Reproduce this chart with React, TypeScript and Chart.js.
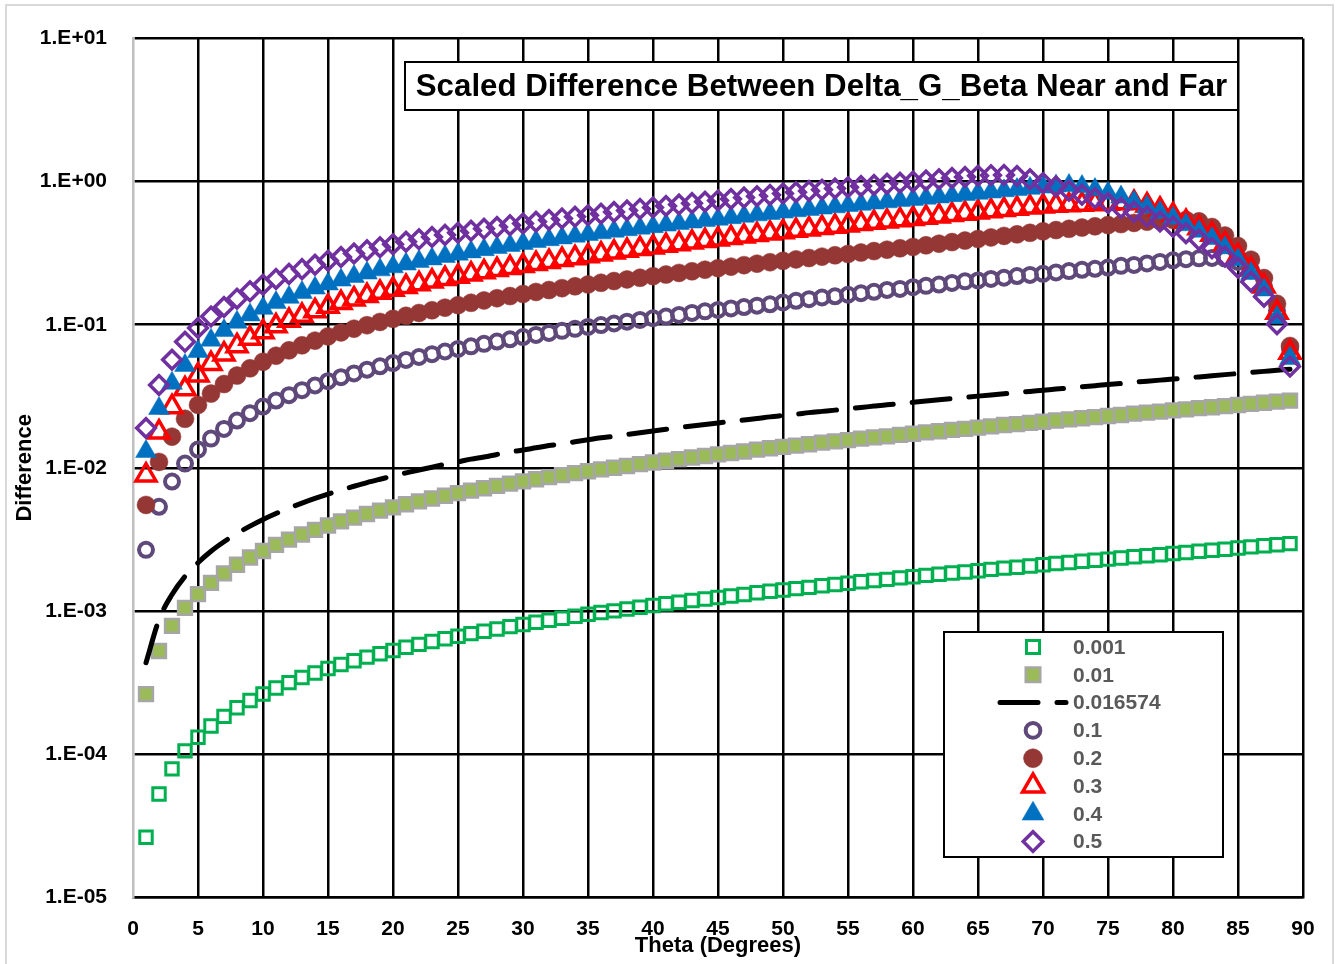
import { useEffect, useRef } from "react";
import { Chart, registerables } from "chart.js";

Chart.register(...registerables);

const FONT = "'Liberation Sans', Arial, sans-serif";

// ---------------- data ----------------
const thetaDeg = [
  1, 2, 3, 4, 5, 6, 7, 8, 9, 10, 11, 12, 13, 14, 15, 16, 17, 18, 19, 20,
  21, 22, 23, 24, 25, 26, 27, 28, 29, 30, 31, 32, 33, 34, 35, 36, 37, 38, 39, 40,
  41, 42, 43, 44, 45, 46, 47, 48, 49, 50, 51, 52, 53, 54, 55, 56, 57, 58, 59, 60,
  61, 62, 63, 64, 65, 66, 67, 68, 69, 70, 71, 72, 73, 74, 75, 76, 77, 78, 79, 80,
  81, 82, 83, 84, 85, 86, 87, 88, 89,
];

const xTickStep = 5;
const yTickValues = [1e-5, 1e-4, 1e-3, 1e-2, 1e-1, 1, 10];
const seriesLabels = ["0.001", "0.01", "0.016574", "0.1", "0.2", "0.3", "0.4", "0.5"];
const chartTitle = "Scaled Difference Between Delta_G_Beta Near and Far";
const xAxisTitle = "Theta (Degrees)";
const yAxisTitle = "Difference";

const s0001 = [
  2.62e-5, 5.24e-5, 7.86e-5, 1.05e-4, 1.31e-4, 1.57e-4, 1.83e-4, 2.10e-4, 2.36e-4, 2.62e-4,
  2.89e-4, 3.15e-4, 3.42e-4, 3.68e-4, 3.95e-4, 4.22e-4, 4.48e-4, 4.75e-4, 5.02e-4, 5.29e-4,
  5.56e-4, 5.83e-4, 6.10e-4, 6.38e-4, 6.65e-4, 6.93e-4, 7.20e-4, 7.48e-4, 7.76e-4, 8.04e-4,
  8.32e-4, 8.60e-4, 8.89e-4, 9.17e-4, 9.46e-4, 9.75e-4, 1.00e-3, 1.03e-3, 1.06e-3, 1.09e-3,
  1.12e-3, 1.15e-3, 1.18e-3, 1.21e-3, 1.24e-3, 1.27e-3, 1.30e-3, 1.34e-3, 1.37e-3, 1.40e-3,
  1.43e-3, 1.46e-3, 1.50e-3, 1.53e-3, 1.56e-3, 1.60e-3, 1.63e-3, 1.66e-3, 1.70e-3, 1.73e-3,
  1.77e-3, 1.80e-3, 1.84e-3, 1.87e-3, 1.91e-3, 1.95e-3, 1.99e-3, 2.02e-3, 2.06e-3, 2.10e-3,
  2.14e-3, 2.18e-3, 2.22e-3, 2.26e-3, 2.30e-3, 2.34e-3, 2.39e-3, 2.43e-3, 2.47e-3, 2.52e-3,
  2.56e-3, 2.61e-3, 2.65e-3, 2.70e-3, 2.75e-3, 2.80e-3, 2.85e-3, 2.90e-3, 2.95e-3,
];

const s001 = [
  2.62e-4, 5.24e-4, 7.86e-4, 1.05e-3, 1.31e-3, 1.57e-3, 1.83e-3, 2.10e-3, 2.36e-3, 2.62e-3,
  2.89e-3, 3.15e-3, 3.42e-3, 3.68e-3, 3.95e-3, 4.22e-3, 4.48e-3, 4.75e-3, 5.02e-3, 5.29e-3,
  5.56e-3, 5.83e-3, 6.10e-3, 6.38e-3, 6.65e-3, 6.93e-3, 7.20e-3, 7.48e-3, 7.76e-3, 8.04e-3,
  8.32e-3, 8.60e-3, 8.89e-3, 9.17e-3, 9.46e-3, 9.75e-3, 1.00e-2, 1.03e-2, 1.06e-2, 1.09e-2,
  1.12e-2, 1.15e-2, 1.18e-2, 1.21e-2, 1.24e-2, 1.27e-2, 1.30e-2, 1.34e-2, 1.37e-2, 1.40e-2,
  1.43e-2, 1.46e-2, 1.50e-2, 1.53e-2, 1.56e-2, 1.60e-2, 1.63e-2, 1.66e-2, 1.70e-2, 1.73e-2,
  1.77e-2, 1.80e-2, 1.84e-2, 1.87e-2, 1.91e-2, 1.95e-2, 1.99e-2, 2.02e-2, 2.06e-2, 2.10e-2,
  2.14e-2, 2.18e-2, 2.22e-2, 2.26e-2, 2.30e-2, 2.34e-2, 2.39e-2, 2.43e-2, 2.47e-2, 2.52e-2,
  2.56e-2, 2.61e-2, 2.65e-2, 2.70e-2, 2.75e-2, 2.80e-2, 2.85e-2, 2.90e-2, 2.95e-2,
];

const s0016574 = [
  4.34e-4, 8.68e-4, 1.30e-3, 1.74e-3, 2.17e-3, 2.61e-3, 3.04e-3, 3.48e-3, 3.91e-3, 4.35e-3,
  4.79e-3, 5.23e-3, 5.67e-3, 6.11e-3, 6.55e-3, 6.99e-3, 7.43e-3, 7.88e-3, 8.32e-3, 8.77e-3,
  9.22e-3, 9.66e-3, 1.01e-2, 1.06e-2, 1.10e-2, 1.15e-2, 1.19e-2, 1.24e-2, 1.29e-2, 1.33e-2,
  1.38e-2, 1.43e-2, 1.47e-2, 1.52e-2, 1.57e-2, 1.62e-2, 1.66e-2, 1.71e-2, 1.76e-2, 1.81e-2,
  1.86e-2, 1.91e-2, 1.96e-2, 2.01e-2, 2.06e-2, 2.11e-2, 2.16e-2, 2.21e-2, 2.27e-2, 2.32e-2,
  2.37e-2, 2.43e-2, 2.48e-2, 2.53e-2, 2.59e-2, 2.64e-2, 2.70e-2, 2.76e-2, 2.81e-2, 2.87e-2,
  2.93e-2, 2.99e-2, 3.05e-2, 3.11e-2, 3.17e-2, 3.23e-2, 3.29e-2, 3.35e-2, 3.42e-2, 3.48e-2,
  3.55e-2, 3.61e-2, 3.68e-2, 3.75e-2, 3.82e-2, 3.88e-2, 3.96e-2, 4.03e-2, 4.10e-2, 4.17e-2,
  4.25e-2, 4.32e-2, 4.40e-2, 4.48e-2, 4.56e-2, 4.64e-2, 4.72e-2, 4.80e-2, 4.89e-2,
];

const s01 = [
  0.00267, 0.00534, 0.00801, 0.0107, 0.0134, 0.016, 0.0187, 0.0214, 0.0241, 0.0268,
  0.0295, 0.0322, 0.0349, 0.0376, 0.0403, 0.043, 0.0457, 0.0485, 0.0512, 0.054,
  0.0567, 0.0595, 0.0623, 0.065, 0.0678, 0.0706, 0.0735, 0.0763, 0.0791, 0.082,
  0.0849, 0.0877, 0.0906, 0.0936, 0.0965, 0.0994, 0.102, 0.105, 0.108, 0.111,
  0.114, 0.117, 0.121, 0.124, 0.127, 0.13, 0.133, 0.136, 0.139, 0.143,
  0.147, 0.151, 0.155, 0.158, 0.162, 0.166, 0.17, 0.175, 0.178, 0.183,
  0.187, 0.191, 0.196, 0.201, 0.204, 0.209, 0.213, 0.219, 0.223, 0.227,
  0.232, 0.237, 0.242, 0.246, 0.251, 0.258, 0.262, 0.268, 0.275, 0.282,
  0.287, 0.291, 0.293, 0.29, 0.275, 0.24, 0.185, 0.125, 0.068,
];

const s02 = [
  0.0055, 0.011, 0.0165, 0.022, 0.0275, 0.033, 0.0385, 0.0441, 0.0496, 0.0551,
  0.0607, 0.0662, 0.0718, 0.0774, 0.0829, 0.0884, 0.0938, 0.0992, 0.1046, 0.11,
  0.1154, 0.1208, 0.1262, 0.1316, 0.137, 0.1424, 0.1478, 0.1532, 0.1586, 0.164,
  0.1694, 0.1748, 0.1802, 0.1856, 0.1911, 0.1965, 0.202, 0.2074, 0.2129, 0.2184,
  0.2243, 0.2303, 0.2363, 0.2424, 0.2485, 0.2547, 0.2609, 0.2671, 0.2734, 0.2798,
  0.2862, 0.2926, 0.2992, 0.3057, 0.3123, 0.3197, 0.3271, 0.3346, 0.3422, 0.3499,
  0.3591, 0.3685, 0.378, 0.3877, 0.3975, 0.4076, 0.4178, 0.4282, 0.4388, 0.4495,
  0.4588, 0.4682, 0.4777, 0.4874, 0.4972, 0.505, 0.515, 0.525, 0.533, 0.54,
  0.54, 0.528, 0.482, 0.42, 0.355, 0.285, 0.212, 0.14, 0.071,
];

const s03 = [
  0.00888, 0.01775, 0.02663, 0.03551, 0.0444, 0.0533, 0.0622, 0.07112, 0.08004, 0.08898,
  0.09793, 0.1069, 0.1159, 0.1249, 0.1339, 0.1424, 0.1509, 0.1594, 0.1678, 0.1762,
  0.1845, 0.1928, 0.2011, 0.2093, 0.2175, 0.2256, 0.2338, 0.2419, 0.25, 0.258,
  0.2671, 0.2756, 0.2847, 0.2933, 0.3025, 0.3114, 0.3207, 0.3297, 0.3391, 0.3482,
  0.3577, 0.3669, 0.3765, 0.3862, 0.3959, 0.4053, 0.4152, 0.4251, 0.4352, 0.4449,
  0.455, 0.4653, 0.4756, 0.4861, 0.4966, 0.5073, 0.518, 0.5288, 0.5397, 0.5508,
  0.5625, 0.5743, 0.5863, 0.5984, 0.6106, 0.623, 0.6356, 0.6483, 0.6612, 0.6743,
  0.6805, 0.6866, 0.6926, 0.6985, 0.7044, 0.7102, 0.713, 0.685, 0.64, 0.585,
  0.525, 0.475, 0.428, 0.367, 0.303, 0.244, 0.186, 0.122, 0.064,
];

const s04 = [
  0.01299, 0.02598, 0.03897, 0.05196, 0.06497, 0.07798, 0.09101, 0.1041, 0.1171, 0.1302,
  0.1428, 0.1554, 0.1679, 0.1803, 0.1927, 0.2051, 0.2174, 0.2296, 0.2418, 0.2539,
  0.2656, 0.2771, 0.2886, 0.3, 0.3113, 0.323, 0.3348, 0.3465, 0.3581, 0.3698,
  0.3814, 0.393, 0.4045, 0.416, 0.4275, 0.439, 0.4505, 0.4619, 0.4734, 0.4848,
  0.4971, 0.5095, 0.5219, 0.5343, 0.5468, 0.5598, 0.5729, 0.5861, 0.5994, 0.6127,
  0.6262, 0.6397, 0.6533, 0.6671, 0.6809, 0.6948, 0.7089, 0.723, 0.7373, 0.7517,
  0.7669, 0.7823, 0.7979, 0.8136, 0.8295, 0.8463, 0.8634, 0.8806, 0.8981, 0.9159,
  0.933, 0.942, 0.925, 0.88, 0.83, 0.78, 0.72, 0.665, 0.61, 0.555,
  0.5, 0.45, 0.4, 0.345, 0.285, 0.228, 0.175, 0.112, 0.058,
];

const s05 = [
  0.01898, 0.03797, 0.05696, 0.07595, 0.09496, 0.114, 0.133, 0.1521, 0.1712, 0.1903,
  0.2086, 0.2267, 0.2447, 0.2626, 0.2804, 0.2977, 0.3147, 0.3317, 0.3484, 0.365,
  0.3803, 0.3954, 0.4102, 0.4247, 0.439, 0.4537, 0.4682, 0.4824, 0.4965, 0.5104,
  0.525, 0.5394, 0.5536, 0.5677, 0.5817, 0.5975, 0.6133, 0.6291, 0.6449, 0.6606,
  0.6764, 0.6921, 0.7079, 0.7236, 0.7394, 0.7564, 0.7735, 0.7907, 0.808, 0.8254,
  0.8428, 0.8604, 0.878, 0.8957, 0.9136, 0.9308, 0.948, 0.9653, 0.9828, 1.0003,
  1.0196, 1.0392, 1.0589, 1.0788, 1.0989, 1.11, 1.115, 1.095, 1.04, 0.98,
  0.925, 0.865, 0.81, 0.765, 0.71, 0.655, 0.615, 0.57, 0.526, 0.485,
  0.436, 0.392, 0.343, 0.3, 0.25, 0.2, 0.157, 0.101, 0.051,
];

const seriesValues = [s0001, s001, s0016574, s01, s02, s03, s04, s05];

// ---------------- styles ----------------
type Marker = { kind: string; r: number; fill: string; stroke: string; lw: number } | null;
const NONE = "rgba(0,0,0,0)";
const markers: Marker[] = [
  { kind: "rect", r: 8.8, fill: NONE, stroke: "#00B050", lw: 3 },
  { kind: "rect", r: 9.8, fill: "#9BBB59", stroke: "#A6A6A6", lw: 2.5 },
  null,
  { kind: "circle", r: 7, fill: NONE, stroke: "#5F497A", lw: 4 },
  { kind: "circle", r: 9, fill: "#953735", stroke: "#953735", lw: 0.5 },
  { kind: "triangle", r: 11.5, fill: NONE, stroke: "#FF0000", lw: 3.5 },
  { kind: "triangle", r: 12, fill: "#0070C0", stroke: "#0070C0", lw: 0.5 },
  { kind: "rectRot", r: 9.3, fill: NONE, stroke: "#7030A0", lw: 3.5 },
];

function drawMarker(ctx: CanvasRenderingContext2D, m: NonNullable<Marker>, x: number, y: number, scale: number) {
  const r = m.r * scale;
  ctx.save();
  ctx.beginPath();
  if (m.kind === "rect") {
    const h = r * Math.SQRT1_2;
    ctx.rect(x - h, y - h, 2 * h, 2 * h);
  } else if (m.kind === "circle") {
    ctx.arc(x, y, r, 0, Math.PI * 2);
  } else if (m.kind === "triangle") {
    ctx.moveTo(x, y - r);
    ctx.lineTo(x + r * 0.8660254, y + r / 2);
    ctx.lineTo(x - r * 0.8660254, y + r / 2);
    ctx.closePath();
  } else {
    ctx.moveTo(x - r, y);
    ctx.lineTo(x, y - r);
    ctx.lineTo(x + r, y);
    ctx.lineTo(x, y + r);
    ctx.closePath();
  }
  if (m.fill !== NONE) {
    ctx.fillStyle = m.fill;
    ctx.fill();
  }
  ctx.lineWidth = m.lw;
  ctx.strokeStyle = m.stroke;
  ctx.stroke();
  ctx.restore();
}

function formatE(v: number) {
  const e = Math.round(Math.log10(v));
  const sign = e < 0 ? "-" : "+";
  return `1.E${sign}${String(Math.abs(e)).padStart(2, "0")}`;
}

const framePlugin = {
  id: "frame",
  beforeDraw(chart: any) {
    const ctx = chart.ctx as CanvasRenderingContext2D;
    ctx.save();
    ctx.fillStyle = "#FFFFFF";
    ctx.fillRect(0, 0, chart.width, chart.height);
    ctx.strokeStyle = "#D9D9D9";
    ctx.lineWidth = 2;
    ctx.strokeRect(6, 5, 1327, 1000);
    ctx.restore();
  },
};

const overlayPlugin = {
  id: "overlay",
  afterDraw(chart: any) {
    const ctx = chart.ctx as CanvasRenderingContext2D;
    ctx.save();
    // title box
    const tb = { l: 405, t: 62, r: 1238, b: 110 };
    ctx.fillStyle = "#FFFFFF";
    ctx.fillRect(tb.l, tb.t, tb.r - tb.l, tb.b - tb.t);
    ctx.strokeStyle = "#000000";
    ctx.lineWidth = 2;
    ctx.strokeRect(tb.l, tb.t, tb.r - tb.l, tb.b - tb.t);
    ctx.font = `bold 30px ${FONT}`;
    const w30 = ctx.measureText(chartTitle).width;
    const size = Math.min(34, (30 * 812) / w30);
    ctx.font = `bold ${size}px ${FONT}`;
    ctx.fillStyle = "#000000";
    ctx.textAlign = "center";
    ctx.textBaseline = "middle";
    ctx.fillText(chartTitle, (tb.l + tb.r) / 2, (tb.t + tb.b) / 2 + 1);

    // legend box
    const lb = { l: 944, t: 632, r: 1223, b: 857 };
    ctx.fillStyle = "#FFFFFF";
    ctx.fillRect(lb.l, lb.t, lb.r - lb.l, lb.b - lb.t);
    ctx.strokeStyle = "#000000";
    ctx.lineWidth = 2;
    ctx.strokeRect(lb.l, lb.t, lb.r - lb.l, lb.b - lb.t);
    const mx = 1033;
    const tx = 1073;
    ctx.font = `bold 21px ${FONT}`;
    ctx.textAlign = "left";
    ctx.textBaseline = "middle";
    seriesLabels.forEach((label, i) => {
      const y = 647 + i * 27.8;
      const m = markers[i];
      if (m) {
        drawMarker(ctx, m, mx, y, 1.05);
      } else {
        ctx.save();
        ctx.strokeStyle = "#000000";
        ctx.lineWidth = 5;
        ctx.lineCap = "round";
        ctx.beginPath();
        ctx.moveTo(1000, y);
        ctx.lineTo(1038, y);
        ctx.moveTo(1057, y);
        ctx.lineTo(1066, y);
        ctx.stroke();
        ctx.restore();
      }
      ctx.fillStyle = "#595959";
      ctx.fillText(label, tx, y + 1);
    });
    ctx.restore();
  },
};

export default function App() {
  const canvasRef = useRef<HTMLCanvasElement | null>(null);

  useEffect(() => {
    const canvas = canvasRef.current;
    if (!canvas) return;

    const datasets: any[] = seriesValues.map((vals, i) => {
      const data = vals.map((y, k) => ({ x: thetaDeg[k], y }));
      const m = markers[i];
      if (!m) {
        return {
          label: seriesLabels[i],
          data,
          showLine: true,
          borderColor: "#000000",
          borderWidth: 5,
          borderDash: [38, 19],
          borderCapStyle: "round",
          cubicInterpolationMode: "monotone",
          pointRadius: 0,
          fill: false,
          order: 7 - i,
        };
      }
      return {
        label: seriesLabels[i],
        data,
        showLine: false,
        pointStyle: m.kind,
        pointRadius: m.r,
        pointHoverRadius: m.r,
        pointBorderWidth: m.lw,
        pointBorderColor: m.stroke,
        pointBackgroundColor: m.fill,
        borderColor: m.stroke,
        backgroundColor: m.fill,
        order: 7 - i,
      };
    });

    const tickFont = { family: FONT, size: 21, weight: "bold" as const };
    const titleFont = { family: FONT, size: 22, weight: "bold" as const };

    const chart = new Chart(canvas, {
      type: "line",
      data: { datasets },
      options: {
        responsive: false,
        maintainAspectRatio: false,
        animation: false,
        events: [],
        layout: { padding: { top: 37, right: 38, bottom: 0, left: 0 } },
        plugins: {
          legend: { display: false },
          tooltip: { enabled: false },
          title: { display: false },
        },
        scales: {
          x: {
            type: "linear",
            min: 0,
            max: 90,
            ticks: {
              stepSize: xTickStep,
              padding: 20,
              color: "#000000",
              font: tickFont,
              maxRotation: 0,
              autoSkip: false,
            },
            grid: {
              color: (c: any) => (c.tick && c.tick.value === 0 ? NONE : "#000000"),
              lineWidth: 2.5,
              drawTicks: false,
            },
            border: { color: "#000000", width: 2.5 },
            title: {
              display: true,
              text: xAxisTitle,
              color: "#000000",
              font: titleFont,
              padding: { top: 0, bottom: 5 },
            },
            afterFit: (s: any) => {
              s.height = 67;
            },
          },
          y: {
            type: "logarithmic",
            min: 1e-5,
            max: 10,
            afterBuildTicks: (s: any) => {
              s.ticks = yTickValues.map((v) => ({ value: v }));
            },
            ticks: {
              callback: (v: any) => formatE(Number(v)),
              padding: 26,
              color: "#000000",
              font: tickFont,
              autoSkip: false,
            },
            grid: { color: "#000000", lineWidth: 2.5, drawTicks: false },
            border: { color: "#BFBFBF", width: 2.5 },
            title: {
              display: true,
              text: yAxisTitle,
              color: "#000000",
              font: titleFont,
              padding: { top: 12, bottom: 0 },
            },
            afterFit: (s: any) => {
              s.width = 133;
            },
          },
        },
      },
      plugins: [framePlugin, overlayPlugin],
    });

    return () => {
      chart.destroy();
    };
  }, []);

  return (
    <div style={{ position: "absolute", left: 0, top: 0, width: 1341, height: 964, background: "#FFFFFF" }}>
      <canvas ref={canvasRef} width={1341} height={964} style={{ display: "block" }} />
    </div>
  );
}
